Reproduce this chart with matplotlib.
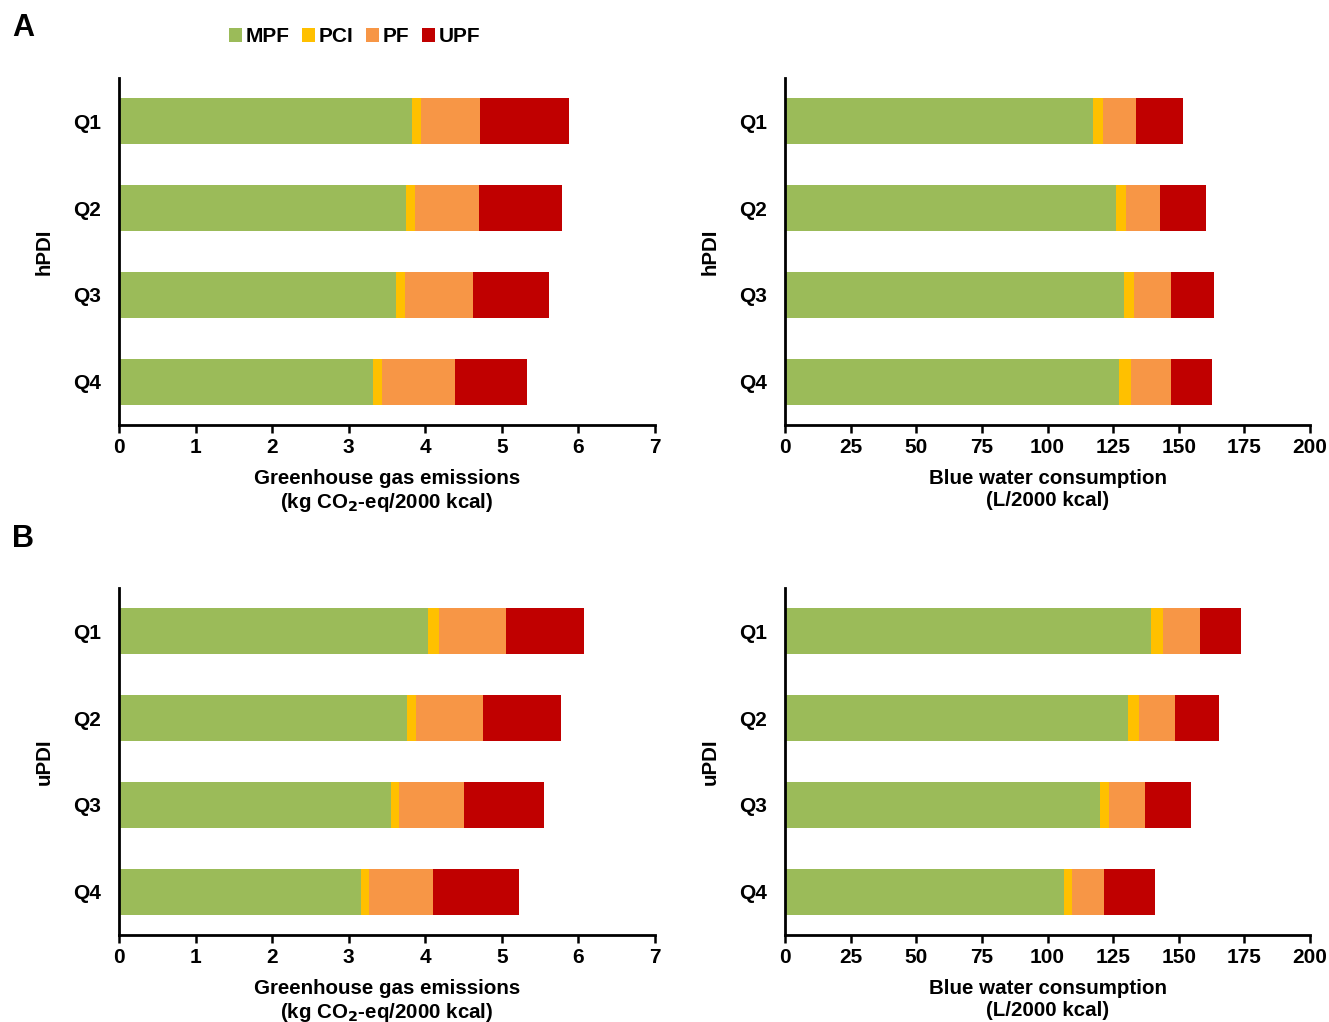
import matplotlib.pyplot as plt
from matplotlib.patches import Patch

plt.rcParams['font.family'] = ['Liberation Sans', 'DejaVu Sans']
plt.rcParams['font.weight'] = 'bold'

quartiles = ["Q1", "Q2", "Q3", "Q4"]
categories = ["MPF", "PCI", "PF", "UPF"]
colors = ["#9BBB59", "#FFC000", "#F79646", "#C00000"]

# hPDI - greenhouse gas emissions (kg CO2-eq/2000 kcal)
hpdi_ghg_mpf = [3.83, 3.75, 3.62, 3.32]
hpdi_ghg_pci = [0.12, 0.12, 0.12, 0.11]
hpdi_ghg_pf = [0.77, 0.83, 0.88, 0.96]
hpdi_ghg_upf = [1.16, 1.08, 1.00, 0.94]

# hPDI - blue water consumption (L/2000 kcal)
hpdi_water_mpf = [117.4, 126.2, 129.2, 127.3]
hpdi_water_pci = [3.8, 3.8, 3.8, 4.4]
hpdi_water_pf = [12.4, 12.8, 13.9, 15.2]
hpdi_water_upf = [18.2, 17.4, 16.4, 15.6]

# uPDI - greenhouse gas emissions
updi_ghg_mpf = [4.04, 3.76, 3.55, 3.16]
updi_ghg_pci = [0.14, 0.12, 0.11, 0.10]
updi_ghg_pf = [0.87, 0.87, 0.85, 0.84]
updi_ghg_upf = [1.02, 1.02, 1.04, 1.12]

# uPDI - blue water consumption
updi_water_mpf = [139.3, 130.6, 120.1, 106.1]
updi_water_pci = [4.6, 4.2, 3.5, 3.1]
updi_water_pf = [14.1, 13.8, 13.4, 12.5]
updi_water_upf = [15.6, 16.6, 17.6, 19.1]

ghg_label = "Greenhouse gas emissions\n(kg CO$_\\mathbf{2}$-eq/2000 kcal)"
water_label = "Blue water consumption\n(L/2000 kcal)"

panels = [
    ([0.0895, 0.5841, 0.4033, 0.3396], [hpdi_ghg_mpf, hpdi_ghg_pci, hpdi_ghg_pf, hpdi_ghg_upf],
     7, range(0, 8), ghg_label, "hPDI"),
    ([0.5907, 0.5841, 0.3950, 0.3396], [hpdi_water_mpf, hpdi_water_pci, hpdi_water_pf, hpdi_water_upf],
     200, range(0, 201, 25), water_label, "hPDI"),
    ([0.0895, 0.0851, 0.4033, 0.3396], [updi_ghg_mpf, updi_ghg_pci, updi_ghg_pf, updi_ghg_upf],
     7, range(0, 8), ghg_label, "uPDI"),
    ([0.5907, 0.0851, 0.3950, 0.3396], [updi_water_mpf, updi_water_pci, updi_water_pf, updi_water_upf],
     200, range(0, 201, 25), water_label, "uPDI"),
]

fig = plt.figure(figsize=(13.29, 10.22), dpi=100)

for rect, series, xmax, xticks, xlabel, ylabel in panels:
    ax = fig.add_axes(rect)
    ypos = range(len(quartiles))
    left = [0] * len(quartiles)
    for vals, col in zip(series, colors):
        ax.barh(ypos, vals, left=left, height=0.53, color=col, edgecolor='none')
        left = [l + v for l, v in zip(left, vals)]
    ax.set_xlim(0, xmax)
    ax.set_ylim(3.5, -0.5)
    ax.set_xticks(list(xticks))
    ax.set_yticks(list(ypos))
    ax.set_yticklabels(quartiles)
    ax.tick_params(axis='y', length=0, pad=13, labelsize=15)
    ax.tick_params(axis='x', direction='out', length=6, width=1.8, labelsize=15, pad=3)
    for s in ['top', 'right']:
        ax.spines[s].set_visible(False)
    for s in ['left', 'bottom']:
        ax.spines[s].set_linewidth(2)
    ax.set_xlabel(xlabel, fontsize=14.8, fontweight='bold', labelpad=9, linespacing=1.2)
    ax.set_ylabel(ylabel, fontsize=14.8, fontweight='bold', labelpad=14)

fig.text(0.009, 0.973, "A", fontsize=22, fontweight='bold', va='center')
fig.text(0.009, 0.473, "B", fontsize=22, fontweight='bold', va='center')

handles = [Patch(facecolor=c, edgecolor='none') for c in colors]
fig.legend(handles, categories, loc='center', bbox_to_anchor=(0.267, 0.964), ncol=4,
           frameon=False, handlelength=0.6, handleheight=0.6,
           handletextpad=0.2, columnspacing=0.6, prop={'weight': 'bold', 'size': 15})

fig.savefig("out.png", dpi=100)
